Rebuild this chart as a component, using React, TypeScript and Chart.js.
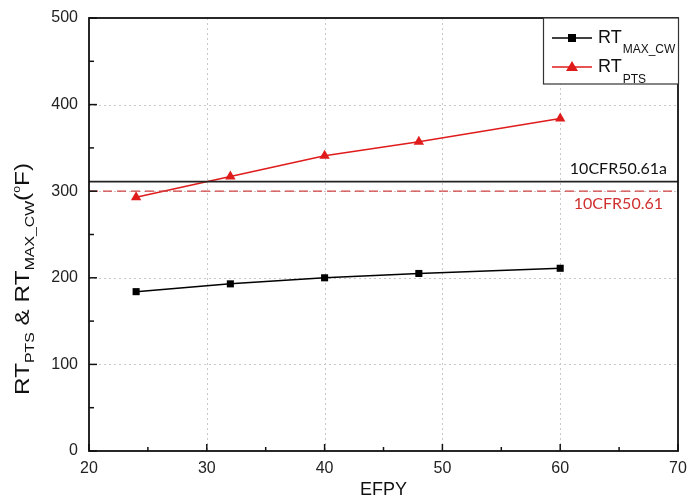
import React, { useEffect, useRef } from "react";
import { Chart, registerables } from "chart.js";

Chart.register(...registerables);

// ---- data ----
const efpy = [24, 32, 40, 48, 60];
const rtMaxCw = [184, 193, 200, 205, 211];
const rtPts = [293, 317, 341, 357, 384];
const limit5061a = 311; // 10CFR50.61a
const limit5061 = 300; // 10CFR50.61
const xRange = [20, 70];
const yRange = [0, 500];
const xTicksMajor = [20, 30, 40, 50, 60, 70];
const yTicksMajor = [0, 100, 200, 300, 400, 500];
const xTicksMinor = [25, 35, 45, 55, 65];
const yTicksMinor = [50, 150, 250, 350, 450];

const RED = "#e01b1b";
const FONT = "Arial, 'Liberation Sans', sans-serif";

const decorPlugin = {
  id: "decor",
  beforeDatasetsDraw(chart: any) {
    const { ctx, chartArea: a, scales } = chart;
    const xs = scales.x, ys = scales.y;
    ctx.save();
    ctx.strokeStyle = "#c8c8c8";
    ctx.lineWidth = 1;
    ctx.setLineDash([2, 3]);
    xTicksMajor.slice(1, -1).forEach((v) => {
      const px = Math.round(xs.getPixelForValue(v)) + 0.5;
      ctx.beginPath(); ctx.moveTo(px, a.top); ctx.lineTo(px, a.bottom); ctx.stroke();
    });
    yTicksMajor.slice(1, -1).forEach((v) => {
      const py = Math.round(ys.getPixelForValue(v)) + 0.5;
      ctx.beginPath(); ctx.moveTo(a.left, py); ctx.lineTo(a.right, py); ctx.stroke();
    });
    ctx.restore();
  },
  afterDatasetsDraw(chart: any) {
    const { ctx, chartArea: a, scales } = chart;
    const xs = scales.x, ys = scales.y;
    ctx.save();
    // frame
    ctx.strokeStyle = "#111";
    ctx.lineWidth = 1.8;
    ctx.setLineDash([]);
    ctx.strokeRect(a.left, a.top, a.right - a.left, a.bottom - a.top);
    // ticks
    ctx.lineWidth = 1.5;
    const tick = (x1: number, y1: number, x2: number, y2: number) => {
      ctx.beginPath(); ctx.moveTo(x1, y1); ctx.lineTo(x2, y2); ctx.stroke();
    };
    xTicksMajor.forEach((v) => { const p = xs.getPixelForValue(v); tick(p, a.bottom, p, a.bottom - 7); });
    xTicksMinor.forEach((v) => { const p = xs.getPixelForValue(v); tick(p, a.bottom, p, a.bottom - 4); });
    yTicksMajor.forEach((v) => { const p = ys.getPixelForValue(v); tick(a.left, p, a.left + 8, p); });
    yTicksMinor.forEach((v) => { const p = ys.getPixelForValue(v); tick(a.left, p, a.left + 5, p); });

    // limit labels
    ctx.font = "16px Lato, 'Open Sans', sans-serif";
    ctx.textAlign = "right";
    ctx.textBaseline = "alphabetic";
    ctx.fillStyle = "#111";
    ctx.fillText("10CFR50.61a", a.right - 11, ys.getPixelForValue(limit5061a) - 8);
    ctx.fillStyle = "#d03030";
    ctx.fillText("10CFR50.61", a.right - 15, ys.getPixelForValue(limit5061) + 18);

    // legend
    const lx = 543, ly = a.top, lw = a.right - 543, lh = 66;
    ctx.fillStyle = "#fff";
    ctx.fillRect(lx, ly, lw, lh);
    ctx.strokeStyle = "#333";
    ctx.lineWidth = 1.2;
    ctx.strokeRect(lx + 0.5, ly, lw, lh);
    const entry = (y: number, color: string, marker: string, sub: string, subBase: number) => {
      ctx.strokeStyle = color;
      ctx.lineWidth = 1.5;
      ctx.beginPath(); ctx.moveTo(552, y); ctx.lineTo(592, y); ctx.stroke();
      ctx.fillStyle = color;
      if (marker === "rect") {
        ctx.fillRect(572 - 4, y - 4, 8, 8);
      } else {
        ctx.beginPath();
        ctx.moveTo(572, y - 6); ctx.lineTo(578, y + 4); ctx.lineTo(566, y + 4); ctx.closePath(); ctx.fill();
      }
      ctx.fillStyle = "#111";
      ctx.textAlign = "left";
      ctx.font = `18px ${FONT}`;
      ctx.fillText("RT", 598, y + 5);
      const w = ctx.measureText("RT").width;
      ctx.font = `12px ${FONT}`;
      ctx.fillText(sub, 598 + w + 1, subBase);
    };
    entry(38, "#000", "rect", "MAX_CW", 53);
    entry(67, RED, "tri", "PTS", 83);

    // y-axis title with subscripts
    const segs: [string, number, number][] = [
      ["RT", 20, 0],
      ["PTS", 13, 5],
      [" & RT", 20, 0],
      ["MAX_CW", 13, 5],
      ["(", 20, 0],
      ["o", 10, -9],
      ["F)", 20, 0],
    ];
    let total = 0;
    const widths = segs.map(([t, s]) => { ctx.font = `${s}px ${FONT}`; const w = ctx.measureText(t).width; total += w; return w; });
    const target = 232;
    const k = target / total;
    ctx.translate(29, 279);
    ctx.rotate(-Math.PI / 2);
    ctx.scale(k, 1);
    ctx.fillStyle = "#111";
    ctx.textAlign = "left";
    let cx = -total / 2;
    segs.forEach(([t, s, off], i) => {
      ctx.font = `${s}px ${FONT}`;
      ctx.fillText(t, cx, off);
      cx += widths[i];
    });
    ctx.restore();

    // x title
    ctx.save();
    ctx.font = `18px ${FONT}`;
    ctx.fillStyle = "#111";
    ctx.textAlign = "center";
    ctx.textBaseline = "alphabetic";
    ctx.fillText("EFPY", (a.left + a.right) / 2, 495);
    ctx.restore();
  },
};

export default function App() {
  const ref = useRef<HTMLCanvasElement>(null);
  useEffect(() => {
    const c = ref.current!;
    const chart = new Chart(c, {
      type: "scatter",
      data: {
        datasets: [
          {
            label: "10CFR50.61",
            data: xRange.map((x) => ({ x, y: limit5061 })),
            showLine: true,
            borderColor: "#d04040",
            borderWidth: 1.2,
            borderDash: [9, 5],
            pointRadius: 0,
          },
          {
            label: "10CFR50.61a",
            data: xRange.map((x) => ({ x, y: limit5061a })),
            showLine: true,
            borderColor: "#222",
            borderWidth: 1.8,
            pointRadius: 0,
          },
          {
            label: "RT_MAX_CW",
            data: efpy.map((x, i) => ({ x, y: rtMaxCw[i] })),
            showLine: true,
            borderColor: "#000",
            backgroundColor: "#000",
            borderWidth: 1.5,
            pointStyle: "rect",
            pointRadius: 5,
            pointBorderWidth: 0,
          },
          {
            label: "RT_PTS",
            data: efpy.map((x, i) => ({ x, y: rtPts[i] })),
            showLine: true,
            borderColor: RED,
            backgroundColor: RED,
            borderWidth: 1.5,
            pointStyle: "triangle",
            pointRadius: 6,
            pointBorderWidth: 0,
          },
        ],
      },
      options: {
        responsive: false,
        animation: false,
        layout: { padding: { left: 0, top: 18, right: 10, bottom: 0 } },
        plugins: { legend: { display: false }, tooltip: { enabled: false } },
        scales: {
          x: {
            type: "linear",
            min: xRange[0],
            max: xRange[1],
            afterFit: (s: any) => { s.height = 48; s.paddingLeft = 0; s.paddingRight = 0; },
            afterBuildTicks: (s: any) => { s.ticks = xTicksMajor.map((v) => ({ value: v })); },
            grid: { display: false, drawTicks: false, tickLength: 0 },
            border: { display: false },
            ticks: { color: "#222", font: { size: 16, family: FONT }, padding: 8, maxRotation: 0 },
          },
          y: {
            type: "linear",
            min: yRange[0],
            max: yRange[1],
            afterFit: (s: any) => { s.width = 89; s.paddingTop = 0; s.paddingBottom = 0; },
            afterBuildTicks: (s: any) => { s.ticks = yTicksMajor.map((v) => ({ value: v })); },
            grid: { display: false, drawTicks: false, tickLength: 0 },
            border: { display: false },
            ticks: { color: "#222", font: { size: 16, family: FONT }, padding: 11 },
          },
        },
      },
      plugins: [decorPlugin],
    } as any);
    return () => chart.destroy();
  }, []);
  return (
    <div style={{ position: "absolute", left: 0, top: 0, width: 688, height: 499, background: "#fff" }}>
      <canvas ref={ref} width={688} height={499} style={{ display: "block" }} />
    </div>
  );
}
